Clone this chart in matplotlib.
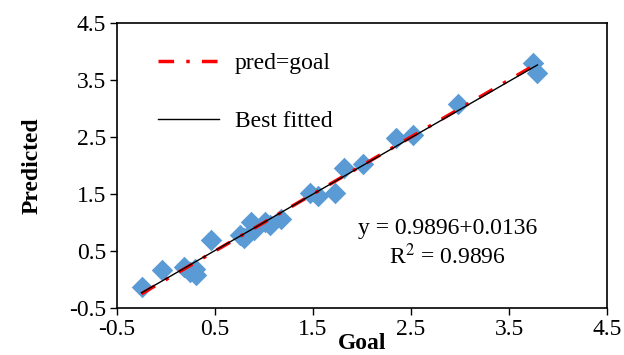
import numpy as np
import matplotlib.pyplot as plt

plt.rcParams['font.family'] = ['Liberation Serif', 'DejaVu Serif']
plt.rcParams['mathtext.fontset'] = 'stix'

# values
goal = [-0.25, -0.04, 0.18, 0.24, 0.30, 0.31, 0.46, 0.76, 0.80, 0.87, 0.90, 1.01,
        1.06, 1.17, 1.47, 1.55, 1.72, 1.82, 2.01, 2.35, 2.52, 2.98, 3.74, 3.79]
pred = [-0.13, 0.16, 0.22, 0.13, 0.19, 0.08, 0.69, 0.78, 0.72, 1.01, 0.87, 1.01,
        0.96, 1.07, 1.52, 1.47, 1.51, 1.95, 2.03, 2.48, 2.54, 3.08, 3.79, 3.63]
slope = 0.9896
intercept = 0.0136
r2 = 0.9896
ticks = [-0.5, 0.5, 1.5, 2.5, 3.5, 4.5]

goal = np.array(goal)
pred = np.array(pred)
xl = np.array([goal.min(), goal.max()])

fig = plt.figure(figsize=(6.24, 3.55), dpi=100)
ax = fig.add_axes([0.1875, 0.1324, 0.7853, 0.8028])

ax.scatter(goal, pred, marker='D', s=120, color='#5B9BD5', linewidths=0, zorder=2)
ax.plot(xl, xl, color='#FF0000', lw=2.5, linestyle=(0, (4.5, 3.5, 1, 3.5)),
        label='pred=goal', zorder=3)
ax.plot(xl, slope * xl + intercept, color='black', lw=1.0, label='Best fitted', zorder=4)

ax.set_xlim(-0.5, 4.5)
ax.set_ylim(-0.5, 4.5)
ax.set_xticks(ticks)
ax.set_yticks(ticks)
ax.set_xticklabels([f'{t:g}' for t in ticks])
ax.set_yticklabels([f'{t:g}' for t in ticks])
ax.tick_params(direction='out', length=5, width=1, labelsize=17, pad=3)
for sp in ax.spines.values():
    sp.set_linewidth(1.2)

ax.set_xlabel('Goal', fontsize=17, fontweight='bold', labelpad=-5)
ax.set_ylabel('Predicted', fontsize=17, fontweight='bold', labelpad=19)

ax.text(2.87, 0.90, f'y = {slope}+{intercept}', fontsize=17, ha='center', va='center')
ax.text(2.87, 0.41, f'R$^2$ = {r2}', fontsize=17, ha='center', va='center')

ax.legend(loc='upper left', bbox_to_anchor=(0.041, 0.97), frameon=False, fontsize=17,
          handlelength=2.55, handletextpad=0.7, labelspacing=1.55)

fig.savefig('out.png', dpi=100)
